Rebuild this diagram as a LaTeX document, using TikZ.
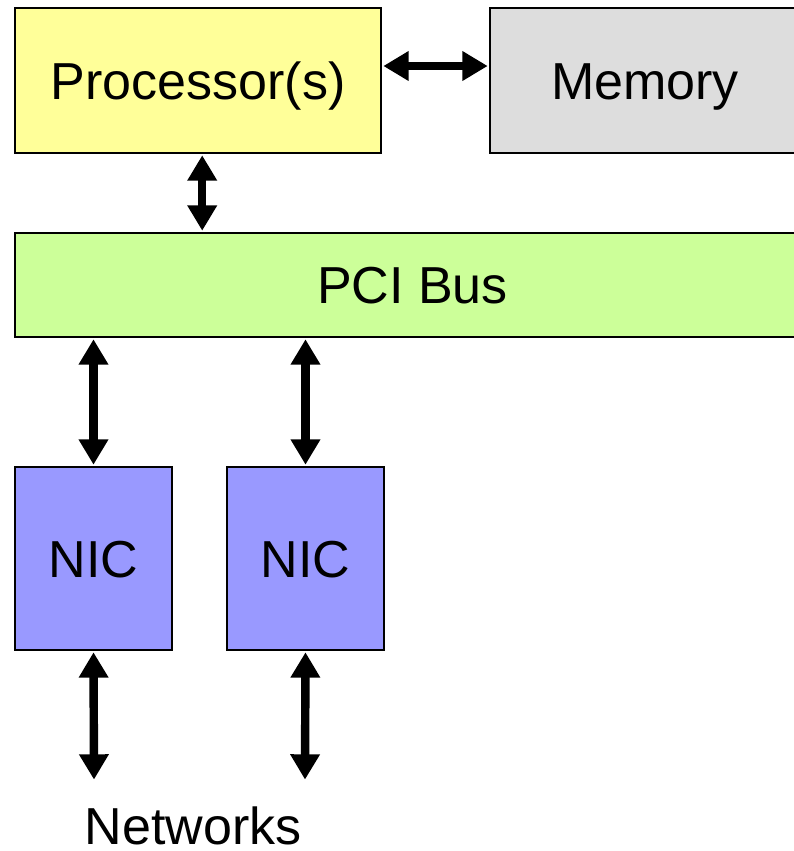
\documentclass[tikz,border=0pt]{standalone}
\usepackage{fontspec}
\setmainfont{Liberation Sans}
\usepackage{xcolor}
\usepackage{tikz}
\usetikzlibrary{arrows.meta}
\definecolor{ProcYellow}{HTML}{FFFF99}
\definecolor{MemGray}{HTML}{DDDDDD}
\definecolor{BusGreen}{HTML}{CCFF99}
\definecolor{NicBlue}{HTML}{9999FF}

\begin{document}
\begin{tikzpicture}[x=0.025cm, y=-0.025cm,
  caps/.style={font=\fontsize{37}{44}\selectfont, text height=26.5pt, text depth=0pt},
  unit/.style={caps, draw=black, line width=1.2pt, inner sep=0pt},
  link/.style={line width=6pt, {Triangle[width=20pt,length=18pt]}-{Triangle[width=20pt,length=18pt]}, shorten <=1pt, shorten >=1pt}]
  \useasboundingbox (0,0) rectangle (794,851);
  \clip (0,0) rectangle (794,851);
  % boxes
  \node[unit, fill=ProcYellow, minimum width=9.15cm, minimum height=3.625cm] (proc) at (198,80.5) {Processor(s)};
  \node[unit, fill=MemGray, minimum width=7.75cm, minimum height=3.625cm] (mem) at (645,80.5) {Memory};
  \node[unit, fill=BusGreen, minimum width=19.875cm, minimum height=2.6cm] (bus) at (412.5,285) {PCI Bus};
  \node[unit, fill=NicBlue, minimum width=3.925cm, minimum height=4.575cm] (nicA) at (93.5,558.5) {NIC};
  \node[unit, fill=NicBlue, minimum width=3.925cm, minimum height=4.575cm] (nicB) at (305.5,558.5) {NIC};
  \node[caps, inner sep=0pt] (nets) at (193,825.5) {Networks};
  \coordinate (row) at (0,66);
  \coordinate (netA) at (94,781);
  \coordinate (netB) at (305,781);
  % links
  \draw[link] (proc.east |- row) -- (mem.west |- row);
  \draw[link] ([xshift=3pt]proc.south) -- ([xshift=3pt]proc.south |- bus.north);
  \draw[link] (nicA.north |- bus.south) -- (nicA.north);
  \draw[link] (nicB.north |- bus.south) -- (nicB.north);
  \draw[link] (nicA.south) -- (netA);
  \draw[link] (nicB.south) -- (netB);
\end{tikzpicture}
\end{document}
